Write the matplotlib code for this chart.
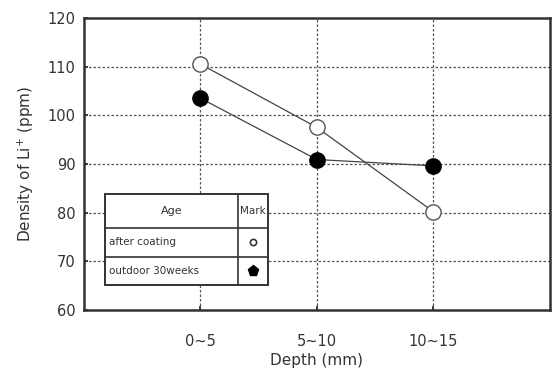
import matplotlib
matplotlib.use('Agg')
import matplotlib.pyplot as plt
from matplotlib.patches import Rectangle

# data
depths = ['0~5', '5~10', '10~15']
after_coating = [110.5, 97.5, 80.2]
outdoor_30w = [103.5, 90.9, 89.6]
yticks = [60, 70, 80, 90, 100, 110, 120]

txt = '#333333'
plt.rcParams['font.family'] = ['DejaVu Sans']

fig = plt.figure(figsize=(5.52, 3.79), dpi=100)
ax = fig.add_axes([0.152, 0.182, 0.844, 0.771])

xs = list(range(1, len(depths) + 1))

# dotted grid
for y in yticks[1:-1]:
	ax.axhline(y, color='#555555', lw=0.9, ls=(0, (2, 1.6)), zorder=1)
for x in xs:
	ax.axvline(x, color='#555555', lw=0.9, ls=(0, (2, 1.6)), zorder=1)

ax.plot(xs, after_coating, color='#444444', lw=0.9, marker='o', ms=11,
		mfc='white', mec='#555555', mew=1.0, zorder=3)
ax.plot(xs, outdoor_30w, color='#444444', lw=0.9, marker='o', ms=11,
		mfc='black', mec='black', zorder=3)

ax.set_xlim(0, len(depths) + 1)
ax.set_ylim(60, 120)
ax.set_xticks(xs)
ax.set_xticklabels(depths)
ax.set_yticks(yticks)
ax.tick_params(direction='in', length=3, width=1.2, colors='#222222',
			   labelcolor=txt, labelsize=10.5)
ax.tick_params(axis='x', pad=17)
ax.tick_params(axis='y', pad=6)
for s in ax.spines.values():
	s.set_linewidth(1.8)
	s.set_color('#333333')

ax.set_xlabel('Depth (mm)', color=txt, fontsize=11, labelpad=3)
ax.set_ylabel('Density of Li$^{+}$ (ppm)', color=txt, fontsize=11, labelpad=8)

# legend drawn as a small table
tl, td, tr = 0.045, 0.330, 0.395
row_y = [0.397, 0.281, 0.182, 0.086]
ax.add_patch(Rectangle((tl, row_y[-1]), tr - tl, row_y[0] - row_y[-1],
					   transform=ax.transAxes, fc='white', ec='#333333', lw=1.4, zorder=5))
for y in row_y[1:-1]:
	ax.plot([tl, tr], [y, y], transform=ax.transAxes, color='#333333', lw=1.2, zorder=6)
ax.plot([td, td], [row_y[0], row_y[-1]], transform=ax.transAxes, color='#333333', lw=1.2, zorder=6)

labels = ['Age', 'after coating', 'outdoor 30weeks']
for i, lab in enumerate(labels):
	yc = (row_y[i] + row_y[i + 1]) / 2
	if i == 0:
		ax.text((tl + td) / 2, yc, lab, transform=ax.transAxes, ha='center', va='center',
				fontsize=8, color=txt, zorder=7)
		ax.text((td + tr) / 2, yc, 'Mark', transform=ax.transAxes, ha='center', va='center',
				fontsize=7.5, color=txt, zorder=7)
	else:
		ax.text(tl + 0.008, yc, lab, transform=ax.transAxes, ha='left', va='center',
				fontsize=7.5, color=txt, zorder=7)
ax.plot([(td + tr) / 2], [(row_y[1] + row_y[2]) / 2], transform=ax.transAxes, marker='o',
		ms=4.5, mfc='white', mec='#333333', mew=1.2, zorder=7)
ax.plot([(td + tr) / 2], [(row_y[2] + row_y[3]) / 2], transform=ax.transAxes, marker='p',
		ms=8, mfc='black', mec='black', zorder=7)

fig.savefig('out.png', dpi=100)
